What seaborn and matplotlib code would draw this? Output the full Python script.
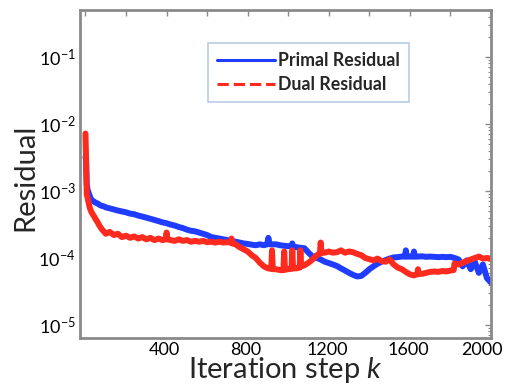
import numpy as np
import pandas as pd
import matplotlib
matplotlib.use("Agg")
import matplotlib.pyplot as plt
import seaborn as sns
from matplotlib.lines import Line2D
from matplotlib.transforms import ScaledTranslation
from matplotlib.ticker import LogLocator, NullFormatter, FixedLocator, FixedFormatter

# ---- data ----
k_primal = [0, 3, 6, 10, 15, 20, 25, 30, 40, 50, 60, 70, 80, 90, 100,
            120, 140, 160, 180, 200, 220, 240, 260, 280, 300, 320, 340, 360, 380, 400,
            420, 440, 460, 480, 500, 520, 540, 560, 580, 600, 620, 640, 660, 680, 700,
            720, 740, 760, 780, 800, 820, 840, 860, 880, 896, 902, 908, 940, 960, 980, 1000,
            1016, 1020, 1024, 1040, 1060, 1080, 1100, 1120, 1140, 1160, 1180, 1200, 1220, 1240, 1260, 1280, 1300,
            1320, 1340, 1360, 1380, 1400, 1420, 1440, 1460, 1480, 1500, 1520, 1540, 1560, 1576, 1580, 1584, 1600,
            1616, 1620, 1624, 1640, 1660, 1680, 1700, 1720, 1740, 1760, 1780, 1800, 1820, 1840, 1860, 1880, 1900,
            1920, 1940, 1960, 1980, 2000]
primal = [3.2e-3, 2.9e-3, 1.3e-3, 1.05e-3, 9.5e-4, 8.6e-4, 7.8e-4, 7.4e-4, 7.0e-4, 6.7e-4, 6.5e-4, 6.2e-4, 6.0e-4, 5.9e-4, 5.7e-4,
          5.5e-4, 5.3e-4, 5.1e-4, 4.95e-4, 4.8e-4, 4.6e-4, 4.5e-4, 4.3e-4, 4.15e-4, 4.0e-4, 3.85e-4, 3.7e-4, 3.55e-4, 3.4e-4, 3.3e-4,
          3.15e-4, 3.05e-4, 2.9e-4, 2.8e-4, 2.65e-4, 2.55e-4, 2.5e-4, 2.4e-4, 2.3e-4, 2.2e-4, 2.05e-4, 2.0e-4, 1.95e-4, 1.9e-4, 1.85e-4,
          1.8e-4, 1.75e-4, 1.7e-4, 1.65e-4, 1.62e-4, 1.58e-4, 1.55e-4, 1.6e-4, 1.55e-4, 1.6e-4, 2.0e-4, 1.6e-4, 1.6e-4, 1.55e-4, 1.52e-4, 1.5e-4,
          1.5e-4, 1.65e-4, 1.48e-4, 1.45e-4, 1.42e-4, 1.4e-4, 1.2e-4, 1.05e-4, 1.0e-4, 9.5e-5, 8.8e-5, 8.4e-5, 8.0e-5, 7.6e-5, 7.0e-5, 6.5e-5, 6.0e-5,
          5.6e-5, 5.3e-5, 5.4e-5, 6.0e-5, 6.8e-5, 7.5e-5, 8.2e-5, 8.8e-5, 9.3e-5, 9.8e-5, 1.02e-4, 1.03e-4, 1.05e-4, 1.05e-4, 1.3e-4, 1.05e-4, 1.05e-4,
          1.05e-4, 1.25e-4, 1.05e-4, 1.05e-4, 1.06e-4, 1.04e-4, 1.05e-4, 1.04e-4, 1.03e-4, 1.04e-4, 1.03e-4, 1.04e-4, 1.0e-4, 9.5e-5, 7.5e-5, 9.2e-5, 6.8e-5,
          8.8e-5, 6.0e-5, 8.0e-5, 5.0e-5, 4.3e-5]

k_dual = [0, 3, 6, 10, 15, 20, 25, 30, 40, 50, 60, 70, 80, 90, 100,
          120, 140, 160, 180, 200, 220, 240, 260, 280, 300, 320, 340, 360, 380, 396, 400, 404,
          420, 440, 460, 480, 500, 520, 540, 560, 580, 600, 620, 640, 660, 680, 700,
          716, 720, 724, 740, 760, 780, 800, 820, 840, 860, 880, 900, 916, 920, 924, 940, 960, 976, 980, 984, 1000,
          1016, 1020, 1024, 1040, 1056, 1060, 1064, 1080, 1100, 1120, 1140, 1156, 1160, 1164, 1180, 1200, 1220, 1240, 1260, 1280, 1300,
          1320, 1340, 1360, 1380, 1400, 1420, 1440, 1460, 1480, 1500, 1520, 1540, 1560, 1580, 1600,
          1620, 1636, 1640, 1644, 1660, 1680, 1700, 1720, 1740, 1760, 1780, 1800, 1816, 1820, 1840, 1860, 1880, 1900,
          1920, 1940, 1960, 1980, 2000]
dual = [7.2e-3, 3.0e-3, 9.0e-4, 8.0e-4, 6.8e-4, 5.8e-4, 5.2e-4, 4.8e-4, 4.3e-4, 3.8e-4, 3.4e-4, 3.0e-4, 2.7e-4, 2.5e-4, 2.3e-4,
        2.45e-4, 2.2e-4, 2.3e-4, 2.05e-4, 2.15e-4, 2.0e-4, 2.1e-4, 1.95e-4, 2.05e-4, 1.9e-4, 2.0e-4, 1.85e-4, 1.95e-4, 1.85e-4, 1.9e-4, 2.4e-4, 1.9e-4,
        1.85e-4, 1.8e-4, 1.9e-4, 1.8e-4, 1.85e-4, 1.75e-4, 1.8e-4, 1.75e-4, 1.8e-4, 1.72e-4, 1.75e-4, 1.7e-4, 1.75e-4, 1.7e-4, 1.72e-4,
        1.7e-4, 1.95e-4, 1.65e-4, 1.6e-4, 1.45e-4, 1.35e-4, 1.25e-4, 1.1e-4, 1.0e-4, 8.5e-5, 7.5e-5, 7.0e-5, 6.9e-5, 1.3e-4, 6.8e-5, 6.8e-5, 6.6e-5, 6.6e-5, 1.25e-4, 6.7e-5, 6.8e-5,
        6.9e-5, 1.3e-4, 7.0e-5, 7.0e-5, 7.2e-5, 1.3e-4, 7.5e-5, 7.8e-5, 8.5e-5, 9.5e-5, 1.1e-4, 1.15e-4, 1.7e-4, 1.2e-4, 1.2e-4, 1.25e-4, 1.2e-4, 1.22e-4, 1.3e-4, 1.2e-4, 1.25e-4,
        1.22e-4, 1.15e-4, 1.1e-4, 1.0e-4, 9.6e-5, 9.2e-5, 9.8e-5, 9.0e-5, 8.8e-5, 9.5e-5, 8.0e-5, 7.2e-5, 6.8e-5, 6.2e-5, 5.7e-5,
        5.5e-5, 5.7e-5, 6.8e-5, 5.8e-5, 5.8e-5, 6.0e-5, 6.2e-5, 6.3e-5, 6.2e-5, 6.4e-5, 6.3e-5, 6.5e-5, 6.6e-5, 8.3e-5, 8.0e-5, 8.5e-5, 9.0e-5, 9.5e-5,
        1.0e-4, 1.05e-4, 9.8e-5, 1.0e-4, 9.8e-5]

series_names = ["Primal Residual", "Dual Residual"]
x_tick_values = [0, 200, 400, 600, 800, 1000, 1200, 1400, 1600, 1800, 2000]
x_tick_labels = ["", "", "400", "", "800", "", "1200", "", "1600", "", "2000"]
y_tick_values = [1e-5, 1e-4, 1e-3, 1e-2, 1e-1]
y_tick_labels = ["10$^{-5}$", "10$^{-4}$", "10$^{-3}$", "10$^{-2}$", "10$^{-1}$"]

df = pd.DataFrame({
    "k": k_primal + k_dual,
    "res": primal + dual,
    "series": [series_names[0]] * len(k_primal) + [series_names[1]] * len(k_dual),
})

BLUE = "#1f3cff"
RED = "#ff2a1e"
GRAY = "#8a8a8a"

sns.set_style("white")
plt.rcParams["font.family"] = ["Lato", "DejaVu Sans"]
plt.rcParams["mathtext.fontset"] = "custom"
plt.rcParams["mathtext.rm"] = "Lato"
plt.rcParams["mathtext.it"] = "Lato:italic"

fig = plt.figure(figsize=(5.08, 3.84), dpi=100)
ax = fig.add_axes([80 / 508, 1 - 338 / 384, 411 / 508, 328 / 384])

sns.lineplot(data=df, x="k", y="res", hue="series",
             palette={series_names[0]: BLUE, series_names[1]: RED},
             hue_order=[series_names[0], series_names[1]],
             estimator=None, lw=4.3, ax=ax, legend=False, sort=False)

ax.set_yscale("log")
ax.set_xlim(-27, 2000)
ax.set_ylim(10 ** -5.194, 10 ** -0.299)

ax.xaxis.set_major_locator(FixedLocator(x_tick_values))
ax.xaxis.set_major_formatter(FixedFormatter(x_tick_labels))
ax.yaxis.set_major_locator(FixedLocator(y_tick_values))
ax.yaxis.set_major_formatter(FixedFormatter(y_tick_labels))
ax.yaxis.set_minor_locator(LogLocator(base=10, subs=np.arange(2, 10), numticks=20))
ax.yaxis.set_minor_formatter(NullFormatter())

ax.tick_params(which="both", direction="in", top=True, right=True, color=GRAY,
               labelsize=13, labelcolor="black")
ax.tick_params(axis="x", pad=3)
ax.tick_params(axis="y", pad=3)
ax.tick_params(which="major", length=4, width=1)
ax.tick_params(which="minor", length=2, width=0.8)

for sp in ax.spines.values():
    sp.set_color(GRAY)
    sp.set_linewidth(2)

# nudge tick labels slightly left like the reference (last one more, to stay inside)
fig.canvas.draw()
for lab in ax.get_xticklabels():
    dx = -9 if lab.get_text() == "2000" else -2
    lab.set_transform(lab.get_transform() + ScaledTranslation(dx / 100, 0, fig.dpi_scale_trans))

ax.set_xlabel("Iteration step $\\it{k}$", fontsize=21, labelpad=-2.5)
ax.set_ylabel("Residual", fontsize=21)
ax.yaxis.set_label_coords(-0.102, 0.49)

handles = [Line2D([0], [0], color=BLUE, lw=2.2, ls="-"),
           Line2D([0], [0], color=RED, lw=2.2, ls="--")]
leg = ax.legend(handles, series_names, loc="upper left", bbox_to_anchor=(0.311, 0.899),
                borderaxespad=0, frameon=True, fancybox=False, handlelength=3.3,
                handletextpad=0.15, prop={"weight": "bold", "size": 12.8},
                borderpad=0.5, labelspacing=0.42)
leg.get_frame().set_edgecolor("#a9bfdc")
leg.get_frame().set_linewidth(1.2)

fig.savefig("out.png", dpi=100)
